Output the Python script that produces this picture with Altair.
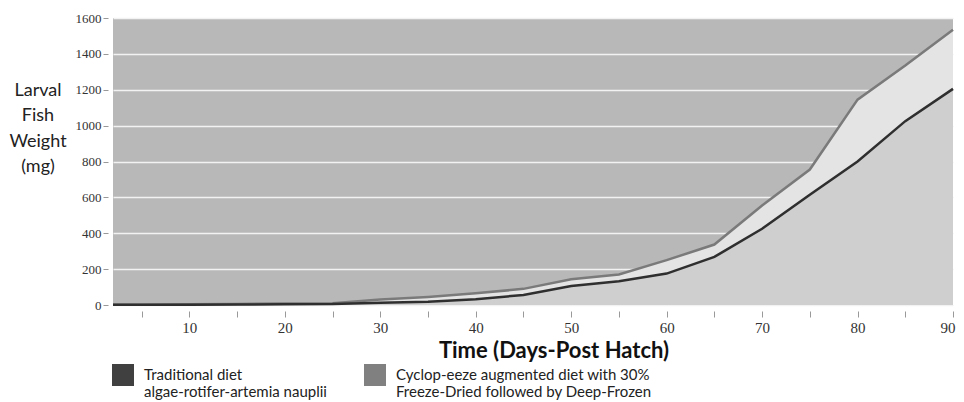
import altair as alt
import pandas as pd

days = [2, 5, 10, 15, 20, 25, 30, 35, 40, 45, 50, 55, 60, 65, 70, 75, 80, 85, 90]
traditional = [1, 1, 2, 3, 4, 5, 12, 18, 32, 56, 106, 133, 175, 268, 425, 615, 800, 1025, 1205]
cyclopeeze = [1, 2, 4, 6, 8, 10, 30, 45, 65, 90, 143, 170, 250, 337, 555, 755, 1145, 1335, 1535]
series_names = [
    "Traditional diet|algae-rotifer-artemia nauplii",
    "Cyclop-eeze augmented diet with 30%|Freeze-Dried followed by Deep-Frozen",
]
legend_colors = ["#404040", "#808080"]
y_ticks = [0, 200, 400, 600, 800, 1000, 1200, 1400, 1600]
x_ticks = [5, 10, 15, 20, 25, 30, 35, 40, 45, 50, 55, 60, 65, 70, 75, 80, 85, 90]
x_title = "Time (Days-Post Hatch)"
y_title = ["Larval", "Fish", "Weight", "(mg)"]

df = pd.DataFrame({"day": days, "trad": traditional, "cyc": cyclopeeze})
df_long = pd.DataFrame({"series": series_names, "day": [days[0]] * 2, "v": [0, 0]})

x_axis = alt.Axis(
    values=x_ticks,
    labelExpr="datum.value % 10 == 0 ? datum.label : ''",
    grid=False, domain=False, offset=6, tickSize=6, tickColor="#999999", tickWidth=1,
    labelFont="Liberation Serif", labelFontSize=15, labelColor="#333333", labelPadding=3,
    labelFlush=True, labelFlushOffset=2, labelOverlap=False,
    title=x_title, titleFont="Lato", titleFontWeight="bold", titleFontSize=22,
    titleColor="#111111", titleX=440.5, titleY=46, titleAlign="center",
    titleBaseline="alphabetic",
)
y_axis = alt.Axis(
    values=y_ticks, format="d", grid=True, gridColor="#f2f2f2", gridWidth=1.5, gridOpacity=1,
    domain=False, offset=5, tickSize=5, tickColor="#999999",
    labelFont="Liberation Serif", labelFontSize=13, labelColor="#333333", labelPadding=2,
    labelFlush=False,
    title=y_title, titleAngle=0, titleAlign="center", titleBaseline="alphabetic",
    titleX=-70.5, titleY=77, titleFont="Lato", titleFontSize=18, titleFontWeight="normal",
    titleColor="#222222", titleLineHeight=25.5,
)

xs = alt.Scale(domain=[2, 90], nice=False, zero=False)
ys = alt.Scale(domain=[0, 1600], nice=False)


def X():
    return alt.X("day:Q", scale=xs, axis=x_axis, title=x_title)


def Y(field):
    return alt.Y(f"{field}:Q", scale=ys, axis=y_axis, title=y_title)


base = alt.Chart(df)
area_cyc = base.mark_area(color="#e4e4e4", opacity=1).encode(x=X(), y=Y("cyc"))
area_trad = base.mark_area(color="#cfcfcf", opacity=1).encode(x=X(), y=Y("trad"))
line_cyc = base.mark_line(color="#7a7a7a", strokeWidth=2.5).encode(x=X(), y=Y("cyc"))
line_trad = base.mark_line(color="#2f2f2f", strokeWidth=2.5).encode(x=X(), y=Y("trad"))

legend_layer = (
    alt.Chart(df_long)
    .mark_square(opacity=1, filled=True)
    .encode(
        x=X(),
        y=Y("v"),
        color=alt.Color(
            "series:N",
            scale=alt.Scale(domain=series_names, range=legend_colors),
            legend=alt.Legend(
                title=None, orient="none", legendX=-1, legendY=346,
                direction="horizontal", symbolType="square", symbolSize=484,
                symbolStrokeWidth=0, labelFont="Lato", labelFontSize=15,
                labelColor="#222222", labelExpr="split(datum.label, '|')",
                labelOffset=10, columnPadding=37, labelLimit=400, padding=0,
            ),
        ),
    )
    .transform_filter("false")
)

chart = (
    alt.layer(area_cyc, area_trad, line_cyc, line_trad, legend_layer)
    .properties(
        width=840, height=287,
        padding={"left": 105, "top": 10, "right": 3, "bottom": 96},
        autosize=alt.AutoSizeParams(type="none"),
    )
    .configure_view(fill="#b8b8b8", stroke=None)
)

chart.save("out.html", embed_options={"renderer": "svg", "actions": False})
